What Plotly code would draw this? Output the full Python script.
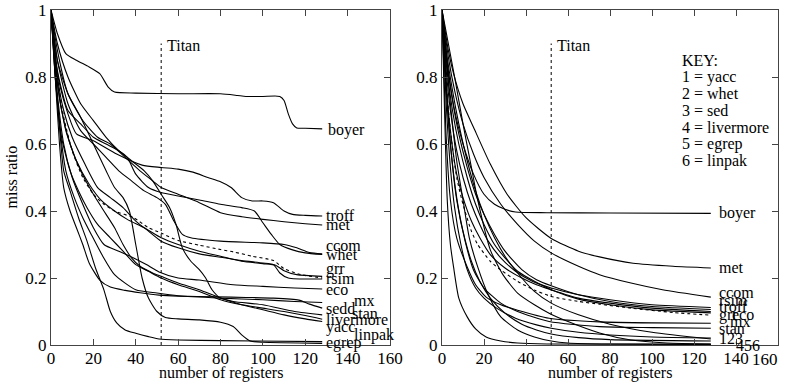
import plotly.graph_objects as go

# ---------------- LEFT PANEL DATA (miss ratio vs number of registers) -------------
L_boyer_x = [0, 3, 7, 12, 18, 23, 27, 30, 40, 60, 80, 88, 92, 100, 108, 110, 112, 114, 116, 120, 128]
L_boyer_y = [1, 0.93, 0.87, 0.85, 0.83, 0.81, 0.77, 0.755, 0.752, 0.75, 0.75, 0.745, 0.742, 0.742, 0.742, 0.73, 0.69, 0.66, 0.648, 0.647, 0.645]

L_troff_x = [0, 2, 4, 8, 12, 20, 31, 43, 52, 60, 67, 74, 80, 85, 90, 95, 100, 105, 110, 114, 120, 128]
L_troff_y = [1, 0.86, 0.78, 0.69, 0.63, 0.61, 0.57, 0.537, 0.53, 0.525, 0.516, 0.5, 0.487, 0.47, 0.44, 0.43, 0.43, 0.425, 0.40, 0.39, 0.387, 0.385]

L_met_x = [0, 3, 8, 15, 22, 28, 35, 42, 48, 52, 60, 70, 80, 90, 100, 110, 120, 128]
L_met_y = [1, 0.88, 0.75, 0.67, 0.62, 0.6, 0.56, 0.52, 0.49, 0.47, 0.45, 0.425, 0.395, 0.383, 0.375, 0.368, 0.362, 0.358]

L_ccom_x = [0, 3, 8, 14, 20, 26, 32, 38, 44, 50, 54, 58, 62, 66, 80, 100, 110, 116, 122, 128]
L_ccom_y = [1, 0.85, 0.72, 0.64, 0.6, 0.56, 0.52, 0.49, 0.46, 0.44, 0.42, 0.37, 0.33, 0.32, 0.31, 0.305, 0.3, 0.29, 0.276, 0.272]

L_whet_x = [0, 3, 8, 14, 20, 26, 32, 36, 40, 46, 52, 60, 70, 80, 90, 96, 100, 104, 108, 114, 120, 128]
L_whet_y = [1, 0.82, 0.7, 0.66, 0.62, 0.6, 0.58, 0.56, 0.51, 0.47, 0.455, 0.445, 0.433, 0.42, 0.41, 0.40, 0.365, 0.33, 0.3, 0.284, 0.275, 0.27]

L_grr_x = [0, 3, 7, 12, 18, 24, 30, 36, 44, 52, 60, 70, 80, 90, 100, 106, 110, 116, 128]
L_grr_y = [1, 0.78, 0.64, 0.55, 0.48, 0.43, 0.40, 0.375, 0.35, 0.32, 0.3, 0.28, 0.265, 0.25, 0.243, 0.238, 0.222, 0.21, 0.205]

L_rsim_x = [0, 3, 6, 10, 16, 22, 28, 34, 40, 46, 52, 60, 70, 80, 90, 100, 105, 108, 112, 128]
L_rsim_y = [1, 0.8, 0.7, 0.62, 0.54, 0.47, 0.44, 0.41, 0.37, 0.34, 0.31, 0.29, 0.272, 0.262, 0.252, 0.245, 0.24, 0.215, 0.2, 0.197]

L_avg_x = [0, 3, 6, 10, 15, 20, 25, 30, 39, 46, 52, 60, 70, 80, 86, 95, 105, 110, 118, 128]
L_avg_y = [1, 0.8, 0.68, 0.58, 0.5, 0.45, 0.42, 0.40, 0.38, 0.35, 0.334, 0.312, 0.298, 0.285, 0.278, 0.265, 0.252, 0.228, 0.21, 0.2]

L_eco_x = [0, 3, 6, 10, 15, 20, 25, 32, 39, 45, 51, 60, 70, 86, 100, 115, 128]
L_eco_y = [1, 0.75, 0.6, 0.5, 0.42, 0.35, 0.30, 0.28, 0.26, 0.24, 0.218, 0.2, 0.194, 0.18, 0.175, 0.17, 0.167]

L_mx_x = [0, 2, 4, 7, 11, 15, 19, 24, 30, 40, 50, 60, 80, 100, 115, 128]
L_mx_y = [1, 0.82, 0.66, 0.52, 0.44, 0.38, 0.33, 0.27, 0.21, 0.165, 0.155, 0.147, 0.14, 0.135, 0.13, 0.127]

L_sedd_x = [0, 2, 4, 6, 9, 12, 15, 18, 23, 28, 35, 42, 51, 60, 78, 92, 105, 117, 122, 128]
L_sedd_y = [1, 0.8, 0.6, 0.47, 0.4, 0.35, 0.3, 0.245, 0.194, 0.173, 0.163, 0.156, 0.149, 0.146, 0.144, 0.142, 0.14, 0.134, 0.122, 0.11]

L_stan_x = [0, 3, 8, 14, 20, 26, 32, 38, 44, 48, 52, 56, 59, 62, 66, 70, 73, 76, 80, 86, 100, 115, 128]
L_stan_y = [1, 0.9, 0.8, 0.72, 0.67, 0.62, 0.58, 0.55, 0.52, 0.49, 0.45, 0.41, 0.36, 0.29, 0.25, 0.225, 0.2, 0.165, 0.14, 0.13, 0.12, 0.1, 0.09]

L_livermore_x = [0, 2, 5, 9, 13, 17, 22, 28, 34, 40, 46, 52, 60, 70, 80, 90, 100, 110, 120, 128]
L_livermore_y = [1, 0.8, 0.62, 0.52, 0.46, 0.41, 0.36, 0.32, 0.28, 0.24, 0.22, 0.2, 0.18, 0.16, 0.135, 0.12, 0.11, 0.1, 0.088, 0.077]

L_yacc_x = [0, 2, 5, 9, 14, 20, 26, 30, 34, 38, 42, 48, 52, 60, 70, 80, 90, 100, 110, 120, 128]
L_yacc_y = [1, 0.84, 0.7, 0.6, 0.52, 0.45, 0.39, 0.35, 0.3, 0.26, 0.235, 0.215, 0.205, 0.185, 0.165, 0.14, 0.12, 0.105, 0.09, 0.078, 0.07]

L_linpak_x = [0, 3, 8, 14, 20, 26, 30, 34, 37, 40, 43, 46, 50, 54, 60, 70, 80, 86, 90, 94, 100, 128]
L_linpak_y = [1, 0.85, 0.75, 0.68, 0.6, 0.52, 0.47, 0.44, 0.4, 0.3, 0.2, 0.14, 0.1, 0.082, 0.078, 0.075, 0.068, 0.055, 0.03, 0.012, 0.008, 0.005]

L_egrep_x = [0, 2, 4, 6, 9, 13, 17, 21, 25, 28, 31, 35, 40, 46, 51, 60, 80, 128]
L_egrep_y = [1, 0.8, 0.65, 0.52, 0.46, 0.38, 0.31, 0.23, 0.164, 0.1, 0.066, 0.045, 0.035, 0.025, 0.018, 0.015, 0.013, 0.01]

# labels for left panel
L_label_names = ["boyer", "troff", "met", "ccom", "whet", "grr", "rsim", "eco", "mx", "sedd", "stan", "livermore", "yacc", "linpak", "egrep"]
L_label_x = [130, 129, 129, 129, 129, 129, 129, 129, 142, 129, 141, 129, 129, 142, 129]
L_label_y = [0.643, 0.387, 0.36, 0.298, 0.27, 0.227, 0.2, 0.165, 0.134, 0.11, 0.093, 0.077, 0.054, 0.03, 0.006]

# ---------------- RIGHT PANEL DATA ----------------
R_boyer_x = [0, 3, 6, 10, 15, 20, 25, 30, 35, 50, 80, 128]
R_boyer_y = [1, 0.82, 0.7, 0.6, 0.51, 0.45, 0.42, 0.405, 0.397, 0.395, 0.394, 0.393]

R_met_x = [0, 3, 5.5, 10, 15, 23, 31, 40, 52, 65, 75, 91, 110, 128]
R_met_y = [1, 0.88, 0.81, 0.72, 0.65, 0.54, 0.45, 0.38, 0.318, 0.28, 0.263, 0.244, 0.235, 0.23]

R_ccom_x = [0, 3, 6, 10, 15, 20, 28, 36, 44, 52, 65, 75, 90, 105, 128]
R_ccom_y = [1, 0.86, 0.76, 0.66, 0.57, 0.5, 0.42, 0.36, 0.31, 0.275, 0.235, 0.21, 0.185, 0.165, 0.143]

R_rsim_x = [0, 2, 4, 7, 10, 14, 18, 22, 28, 35, 43, 52, 65, 80, 100, 128]
R_rsim_y = [1, 0.82, 0.7, 0.58, 0.5, 0.42, 0.36, 0.31, 0.26, 0.22, 0.19, 0.17, 0.15, 0.135, 0.12, 0.112]

R_troff_x = [0, 2, 5, 8, 12, 16, 20, 25, 30, 38, 45, 52, 65, 80, 100, 128]
R_troff_y = [1, 0.86, 0.73, 0.63, 0.53, 0.45, 0.39, 0.33, 0.28, 0.225, 0.195, 0.177, 0.15, 0.13, 0.115, 0.106]

R_grr_x = [0, 2, 4, 7, 10, 14, 18, 23, 30, 38, 45, 52, 65, 80, 100, 128]
R_grr_y = [1, 0.78, 0.64, 0.51, 0.44, 0.37, 0.32, 0.27, 0.23, 0.2, 0.18, 0.165, 0.14, 0.125, 0.11, 0.1]

R_eco_x = [0, 2, 5, 8, 12, 16, 20, 25, 30, 36, 44, 52, 65, 80, 100, 128]
R_eco_y = [1, 0.84, 0.7, 0.6, 0.5, 0.42, 0.36, 0.3, 0.26, 0.22, 0.19, 0.165, 0.137, 0.12, 0.105, 0.096]

R_avg_x = [0, 2, 4, 7, 10, 14, 17, 23, 28, 36, 44, 52, 65, 75, 90, 110, 128]
R_avg_y = [1, 0.78, 0.64, 0.5, 0.42, 0.34, 0.3, 0.25, 0.224, 0.19, 0.164, 0.145, 0.13, 0.122, 0.11, 0.097, 0.089]

R_mx_x = [0, 1, 2, 4, 7, 12, 16, 21, 28, 36, 51, 75, 100, 128]
R_mx_y = [1, 0.8, 0.62, 0.433, 0.32, 0.233, 0.18, 0.143, 0.12, 0.104, 0.08, 0.069, 0.066, 0.065]

R_stan_x = [0, 2, 4, 7, 11, 15, 20, 28, 36, 51, 75, 100, 128]
R_stan_y = [1, 0.78, 0.6, 0.433, 0.31, 0.224, 0.17, 0.125, 0.1, 0.07, 0.055, 0.052, 0.05]

R_yacc_x = [0, 2, 4, 6, 9, 12, 16, 20, 26, 35, 45, 52, 65, 80, 100, 128]
R_yacc_y = [1, 0.72, 0.53, 0.41, 0.3, 0.225, 0.17, 0.14, 0.11, 0.08, 0.06, 0.05, 0.038, 0.03, 0.024, 0.021]

R_whet_x = [0, 2, 5, 8, 12, 16, 20, 25, 30, 36, 44, 52, 65, 80, 100, 128]
R_whet_y = [1, 0.88, 0.76, 0.66, 0.55, 0.46, 0.39, 0.32, 0.265, 0.215, 0.16, 0.125, 0.09, 0.062, 0.038, 0.018]

R_sed_x = [0, 2, 4, 7, 10, 14, 18, 23, 30, 38, 45, 52, 65, 80, 128]
R_sed_y = [1, 0.76, 0.6, 0.44, 0.34, 0.25, 0.19, 0.14, 0.095, 0.062, 0.045, 0.033, 0.022, 0.016, 0.012]

R_livermore_x = [0, 1, 2.5, 4, 5.5, 8, 12, 16, 21, 28, 36, 50, 128]
R_livermore_y = [1, 0.75, 0.433, 0.3, 0.233, 0.14, 0.084, 0.048, 0.024, 0.012, 0.006, 0.003, 0.002]

R_egrep_x = [0, 2, 4, 7, 10, 13, 17, 22, 28, 36, 44, 52, 60, 80, 128]
R_egrep_y = [1, 0.86, 0.72, 0.55, 0.433, 0.32, 0.233, 0.15, 0.084, 0.045, 0.024, 0.012, 0.006, 0.003, 0.002]

R_linpak_x = [0, 3, 6, 10, 14, 17, 23, 29, 36, 44, 51, 60, 75, 90, 107, 128]
R_linpak_y = [1, 0.9, 0.8, 0.66, 0.53, 0.433, 0.284, 0.21, 0.155, 0.12, 0.095, 0.07, 0.036, 0.015, 0.006, 0.003]

R_label_names = ["boyer", "met", "ccom", "rsim", "troff", "grr", "eco", "mx", "stan", "123", "456"]
R_label_x = [131, 131, 131, 131, 131, 131, 137, 136, 131, 131, 139]
R_label_y = [0.393, 0.23, 0.158, 0.134, 0.114, 0.09, 0.09, 0.07, 0.05, 0.02, 0.0]

KEY_lines = ["KEY:", "1 = yacc", "2 = whet", "3 = sed", "4 = livermore", "5 = egrep", "6 = linpak"]

TITAN_X = 52
TITAN_TOP = 0.9

x_ticks = [0, 20, 40, 60, 80, 100, 120, 140, 160]
y_ticks = [0, 0.2, 0.4, 0.6, 0.8, 1]
y_ticktext = ["0", "0.2", "0.4", "0.6", "0.8", "1"]

FONT = "Liberation Serif, Times New Roman, serif"

left_curves = [
    (L_boyer_x, L_boyer_y, "solid"), (L_troff_x, L_troff_y, "solid"), (L_met_x, L_met_y, "solid"),
    (L_ccom_x, L_ccom_y, "solid"), (L_whet_x, L_whet_y, "solid"), (L_grr_x, L_grr_y, "solid"),
    (L_rsim_x, L_rsim_y, "solid"), (L_avg_x, L_avg_y, "dot"), (L_eco_x, L_eco_y, "solid"),
    (L_mx_x, L_mx_y, "solid"), (L_sedd_x, L_sedd_y, "solid"), (L_stan_x, L_stan_y, "solid"),
    (L_livermore_x, L_livermore_y, "solid"), (L_yacc_x, L_yacc_y, "solid"),
    (L_linpak_x, L_linpak_y, "solid"), (L_egrep_x, L_egrep_y, "solid"),
]
right_curves = [
    (R_boyer_x, R_boyer_y, "solid"), (R_met_x, R_met_y, "solid"), (R_ccom_x, R_ccom_y, "solid"),
    (R_rsim_x, R_rsim_y, "solid"), (R_troff_x, R_troff_y, "solid"), (R_grr_x, R_grr_y, "solid"),
    (R_eco_x, R_eco_y, "solid"), (R_avg_x, R_avg_y, "dot"), (R_mx_x, R_mx_y, "solid"),
    (R_stan_x, R_stan_y, "solid"), (R_yacc_x, R_yacc_y, "solid"), (R_whet_x, R_whet_y, "solid"),
    (R_sed_x, R_sed_y, "solid"), (R_livermore_x, R_livermore_y, "solid"),
    (R_egrep_x, R_egrep_y, "solid"), (R_linpak_x, R_linpak_y, "solid"),
]

fig = go.Figure()

def add_curves(curves, xa, ya):
    for xs, ys, dash in curves:
        fig.add_trace(go.Scatter(
            x=xs, y=ys, mode="lines", xaxis=xa, yaxis=ya,
            line=dict(color="black", width=1.1, dash=dash, shape="spline", smoothing=0.6),
            showlegend=False, hoverinfo="skip"))
    fig.add_trace(go.Scatter(
        x=[TITAN_X, TITAN_X], y=[0, TITAN_TOP], mode="lines", xaxis=xa, yaxis=ya,
        line=dict(color="black", width=1, dash="dot"), showlegend=False, hoverinfo="skip"))

add_curves(left_curves, "x", "y")
add_curves(right_curves, "x2", "y2")

W, H = 790, 384
ml, mr, mt, mb = 51, 12, 10, 39
pw = W - ml - mr
ph = H - mt - mb
d1 = (390 - ml) / pw
d2 = (442 - ml) / pw

ann = []
def lab(text, x, y, xref, yref, size=16, anchor="left"):
    ann.append(dict(text=text, x=x, y=y, xref=xref, yref=yref, showarrow=False,
                    xanchor=anchor, yanchor="middle", font=dict(family=FONT, size=size, color="black")))

for n, x, y in zip(L_label_names, L_label_x, L_label_y):
    lab(n, x, y, "x", "y")
for n, x, y in zip(R_label_names, R_label_x, R_label_y):
    lab(n, x, y, "x2", "y2")
lab("Titan", TITAN_X + 2, 0.895, "x", "y")
lab("Titan", TITAN_X + 2, 0.895, "x2", "y2")
for i, t in enumerate(KEY_lines):
    lab(t, 113.5, 0.85 - 0.05 * i, "x2", "y2")

# last right-axis tick label, right-anchored at the plot edge so it stays inside the page
ann.append(dict(text=str(x_ticks[-1]), x=1.0, y=0, xref="paper", yref="paper", showarrow=False,
                xanchor="right", yanchor="top", yshift=-3, xshift=2,
                font=dict(family=FONT, size=17, color="black")))

ann.append(dict(text="miss ratio", x=(11 - ml) / pw, y=0.5, xref="paper", yref="paper", showarrow=False,
                xanchor="center", yanchor="middle", textangle=-90,
                font=dict(family=FONT, size=16, color="black")))
title_y = (H - mb - 373) / ph
ann.append(dict(text="number of registers", x=d1 / 2, y=title_y, xref="paper", yref="paper",
                showarrow=False, xanchor="center", yanchor="middle",
                font=dict(family=FONT, size=16, color="black")))
ann.append(dict(text="number of registers", x=(d2 + 1) / 2, y=title_y, xref="paper", yref="paper",
                showarrow=False, xanchor="center", yanchor="middle",
                font=dict(family=FONT, size=16, color="black")))

axis_common = dict(range=[0, 160], tickvals=x_ticks, ticks="inside", ticklen=6, tickcolor="#444",
                   showline=True, linecolor="#444", linewidth=1.2, mirror="ticks", showgrid=False,
                   zeroline=False, automargin=False, ticklabeloverflow="allow", ticklabelstandoff=-3,
                   tickfont=dict(family=FONT, size=17, color="black"))
yaxis_common = dict(range=[0, 1], tickvals=y_ticks, ticktext=y_ticktext, ticks="inside", ticklen=6,
                    tickcolor="#444", showline=True, linecolor="#444", linewidth=1.2, mirror="ticks",
                    showgrid=False, zeroline=False, automargin=False, ticklabeloverflow="allow",
                    tickfont=dict(family=FONT, size=17, color="black"))

x2_ticktext = [str(v) for v in x_ticks[:-1]] + [""]

fig.update_layout(
    width=W, height=H, margin=dict(l=ml, r=mr, t=mt, b=mb, autoexpand=False),
    paper_bgcolor="white", plot_bgcolor="white",
    xaxis=dict(domain=[0, d1], anchor="y", **axis_common),
    yaxis=dict(domain=[0, 1], anchor="x", **yaxis_common),
    xaxis2=dict(domain=[d2, 1], anchor="y2", ticktext=x2_ticktext, **axis_common),
    yaxis2=dict(domain=[0, 1], anchor="x2", **yaxis_common),
    annotations=ann,
)

fig.write_html("out.html")
